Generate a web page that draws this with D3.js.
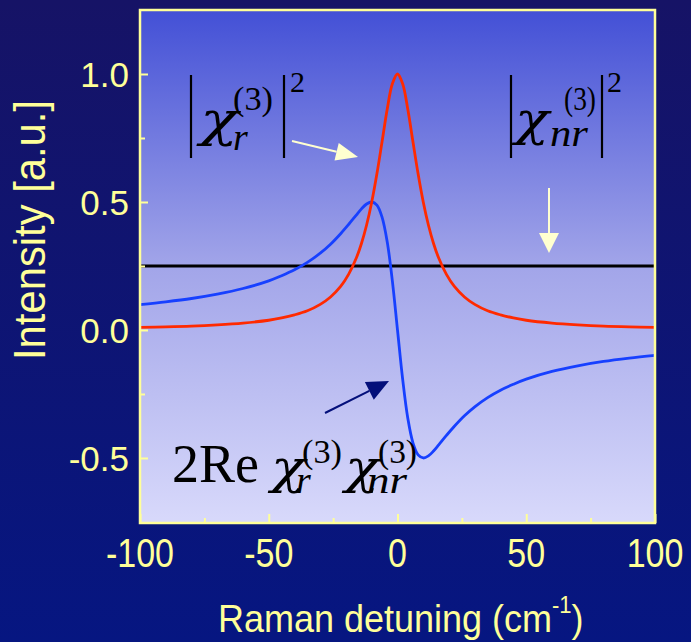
<!DOCTYPE html>
<html><head><meta charset="utf-8">
<script src="https://cdn.jsdelivr.net/npm/d3@7"></script>
<style>html,body{margin:0;padding:0;background:#10146e;}svg{display:block;}</style>
</head><body>
<div id="chart"></div>
<script>
// ---- data ----
const detuning = [-100,-90,-80,-70,-60,-50,-45,-40,-35,-30,-26,-22,-19,-16,-14,-12,-10,-8,-6,-4,-2,0,2,4,6,8,10,12,14,16,19,22,26,30,35,40,45,50,60,70,80,90,100];
const resonant = [0.010,0.012,0.015,0.020,0.027,0.038,0.047,0.059,0.075,0.100,0.129,0.171,0.217,0.281,0.338,0.410,0.500,0.610,0.735,0.862,0.962,1.000,0.962,0.862,0.735,0.610,0.500,0.410,0.338,0.281,0.217,0.171,0.129,0.100,0.075,0.059,0.047,0.038,0.027,0.020,0.015,0.012,0.010];
const crossTerm = [0.099,0.110,0.123,0.140,0.162,0.192,0.212,0.235,0.264,0.300,0.335,0.377,0.412,0.449,0.473,0.492,0.500,0.488,0.441,0.345,0.192,0.000,-0.192,-0.345,-0.441,-0.488,-0.500,-0.492,-0.473,-0.449,-0.412,-0.377,-0.335,-0.300,-0.264,-0.235,-0.212,-0.192,-0.162,-0.140,-0.123,-0.110,-0.099];
const nonResonantLevel = 0.25;
const xMajorTicks = [-100,-50,0,50,100];
const xMinorTicks = [-75,-25,25,75];
const yMajorTicks = [-0.5,0.0,0.5,1.0];
const yMinorTicks = [-0.25,0.25,0.75];
const yTickLabels = ["-0.5","0.0","0.5","1.0"];
const xTitle = "Raman detuning (cm";
const yTitle = "Intensity [a.u.]";

// ---- layout ----
const W = 691, H = 642;
const L = 140, R = 655, T = 10, B = 523;
const yellow = "#ffff99";

const svg = d3.select("#chart").append("svg").attr("width", W).attr("height", H);
const defs = svg.append("defs");
const bg = defs.append("linearGradient").attr("id","bg").attr("x1",0).attr("y1",0).attr("x2",0).attr("y2",1);
bg.append("stop").attr("offset","0%").attr("stop-color","#161366");
bg.append("stop").attr("offset","100%").attr("stop-color","#061681");
const pg = defs.append("linearGradient").attr("id","pg").attr("x1",0).attr("y1",0).attr("x2",0).attr("y2",1);
pg.append("stop").attr("offset","0%").attr("stop-color","#4350d6");
pg.append("stop").attr("offset","50%").attr("stop-color","#a2a5e9");
pg.append("stop").attr("offset","100%").attr("stop-color","#d8d9fb");
defs.append("clipPath").attr("id","clip").append("rect").attr("x",L).attr("y",T).attr("width",R-L).attr("height",B-T);

svg.append("rect").attr("width",W).attr("height",H).attr("fill","url(#bg)");
svg.append("rect").attr("x",L).attr("y",T).attr("width",R-L).attr("height",B-T).attr("fill","url(#pg)");

const x = d3.scaleLinear().domain([-100,100]).range([L,R]);
const y = d3.scaleLinear().domain([-0.754,1.25]).range([B,T]);

const line = d3.line().x((d,i)=>x(detuning[i])).y(d=>y(d)).curve(d3.curveCatmullRom.alpha(0.5));
const plot = svg.append("g").attr("clip-path","url(#clip)");

plot.append("line").attr("x1",x(-100)).attr("x2",x(100)).attr("y1",y(nonResonantLevel)).attr("y2",y(nonResonantLevel))
  .attr("stroke","#000").attr("stroke-width",2.8);
plot.append("path").datum(crossTerm).attr("d",line).attr("fill","none").attr("stroke","#1740ff").attr("stroke-width",2.8);
plot.append("path").datum(resonant).attr("d",line).attr("fill","none").attr("stroke","#ff2a00").attr("stroke-width",2.8);

// ---- axes (ticks inward) ----
const xAx = svg.append("g").attr("transform",`translate(0,${B})`)
  .call(d3.axisBottom(x).tickValues(xMajorTicks).tickSize(-9).tickFormat(""));
const xAxm = svg.append("g").attr("transform",`translate(0,${B})`)
  .call(d3.axisBottom(x).tickValues(xMinorTicks).tickSize(-5).tickFormat(""));
const yAx = svg.append("g").attr("transform",`translate(${L},0)`)
  .call(d3.axisLeft(y).tickValues(yMajorTicks).tickSize(-8).tickFormat(""));
const yAxm = svg.append("g").attr("transform",`translate(${L},0)`)
  .call(d3.axisLeft(y).tickValues(yMinorTicks).tickSize(-5).tickFormat(""));
[xAx,xAxm,yAx,yAxm].forEach(g=>{
  g.select(".domain").remove();
  g.selectAll(".tick line").attr("stroke",yellow).attr("stroke-width",2);
});

// frame
svg.append("rect").attr("x",L).attr("y",T).attr("width",R-L).attr("height",B-T)
  .attr("fill","none").attr("stroke",yellow).attr("stroke-width",2.5);

// tick labels
svg.append("g").selectAll("text").data(xMajorTicks).join("text")
  .attr("transform",d=>`translate(${x(d)},567) scale(1,1.17)`)
  .attr("text-anchor","middle").attr("font-family","Liberation Sans, Arial, sans-serif")
  .attr("font-size",34).attr("fill",yellow).text(d=>d);
svg.append("g").selectAll("text").data(yMajorTicks).join("text")
  .attr("x",129).attr("y",d=>y(d)).attr("dy","0.36em")
  .attr("text-anchor","end").attr("font-family","Liberation Sans, Arial, sans-serif")
  .attr("font-size",35).attr("fill",yellow).text((d,i)=>yTickLabels[i]);

// axis titles
const xt = svg.append("text").attr("transform","translate(218,632) scale(1,1.1)")
  .attr("font-family","Liberation Sans, Arial, sans-serif").attr("font-size",36).attr("fill",yellow);
xt.append("tspan").text(xTitle);
xt.append("tspan").attr("font-size",22).attr("dy",-17).text("-1");
xt.append("tspan").attr("dy",17).text(")");
svg.append("text").attr("transform","translate(45,360) rotate(-90) scale(1,1.07)")
  .attr("font-family","Liberation Sans, Arial, sans-serif").attr("font-size",42).attr("fill",yellow)
  .attr("textLength",260).attr("lengthAdjust","spacingAndGlyphs").text(yTitle);

// ---- math annotations: one text element per expression ----
const serif = "Liberation Serif, Times New Roman, serif";
// [x, baseline, text, size, italic, textLength, greekFont]
function expr(parts){
  const tx = svg.append("text").attr("font-family",serif).attr("fill","#000");
  parts.forEach(p=>{
    const s = tx.append("tspan").attr("x",p[0]).attr("y",p[1]).attr("font-size",p[3])
      .attr("font-style",p[4]?"italic":"normal").text(p[2]);
    if (p[5]) s.attr("textLength",p[5]).attr("lengthAdjust","spacingAndGlyphs");
    if (p[6]) s.attr("font-family","DejaVu Serif, serif");
  });
}
function bar(xp){
  svg.append("line").attr("x1",xp).attr("x2",xp).attr("y1",75).attr("y2",158).attr("stroke","#000").attr("stroke-width",2.2);
}
// |chi_r^(3)|^2
bar(191); bar(284);
expr([[200,136,"χ",48,true,38,true],[233,110,"(3)",33,false,40],[233,150,"r",38,true],[290,92,"2",30,false]]);
// |chi_nr^(3)|^2
bar(511); bar(602);
expr([[515,135,"χ",46,true,34,true],[564,110,"(3)",33,false,32],[550,146,"nr",38,true,38],[607,92,"2",30,false]]);
// 2 Re chi_r chi_nr
expr([[172,482,"2Re",54,false],[271,483,"χ",46,true,34,true],[302,463,"(3)",33,false,40],[296,493,"r",38,true],
      [345,483,"χ",46,true,34,true],[378,463,"(3)",33,false,39],[367,493,"nr",38,true,40]]);

// arrows
function arrow(x1,y1,x2,y2,color,len,wid){
  const a = Math.atan2(y2-y1,x2-x1), c=Math.cos(a), s=Math.sin(a);
  const bx = x2-len*c, by = y2-len*s;
  svg.append("line").attr("x1",x1).attr("y1",y1).attr("x2",bx).attr("y2",by).attr("stroke",color).attr("stroke-width",2);
  svg.append("path").attr("d",`M${x2},${y2}L${bx - wid/2*s},${by + wid/2*c}L${bx + wid/2*s},${by - wid/2*c}Z`).attr("fill",color);
}
arrow(292,141,358,157,"#ffffd0",22,18);
arrow(549,188,549,253,"#ffffd0",20,20);
arrow(325,413,389,381,"#030f7a",22,20);
</script>
</body></html>
